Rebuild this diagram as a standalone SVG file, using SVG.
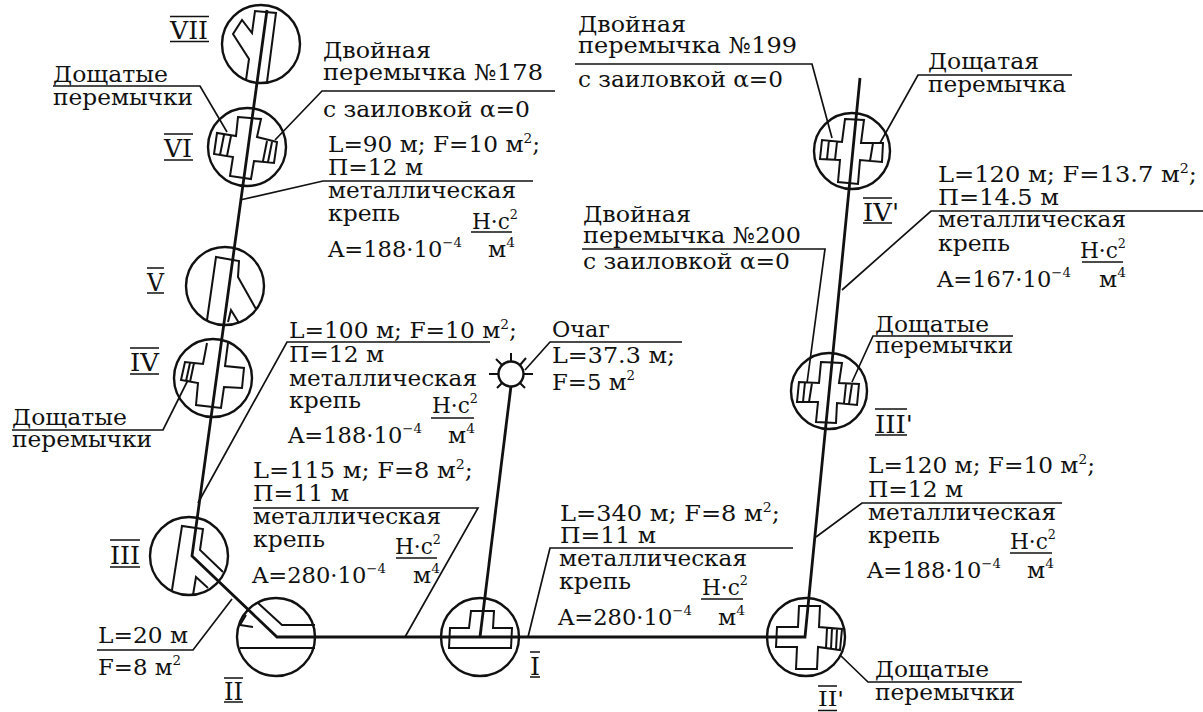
<svg xmlns="http://www.w3.org/2000/svg" width="1203" height="712" viewBox="0 0 1203 712">
<style>
text{font-family:"DejaVu Serif","Liberation Serif",serif;font-size:22px;fill:#111}
.sup{font-size:13px}
.rom{font-size:24px}
.rom2{font-size:21px}
.c{fill:none;stroke:#111;stroke-width:2.4}
.s{fill:none;stroke:#111;stroke-width:2}
.m{fill:none;stroke:#111;stroke-width:2.8}
.t{fill:none;stroke:#111;stroke-width:1.7}
</style>
<rect width="1203" height="712" fill="#fff"/>
<g id="connectors">
<path class="m" d="M267 10L192 556L277 637H805L860 78"/>
<path class="m" d="M480 637L511 386"/>
<path class="t" d="M53 86H200L227 132"/>
<path class="t" d="M12 430H163L188 380"/>
<path class="t" d="M555 91H322L275 140"/>
<path class="t" d="M533 181H323L240 200"/>
<path class="t" d="M490 342H287L198 503"/>
<path class="t" d="M253 508H478L405 637"/>
<path class="t" d="M97 650H193L232 599"/>
<path class="t" d="M793 548H550L528 637"/>
<path class="t" d="M682 342H550L525 370"/>
<path class="t" d="M575 64H812L832 138"/>
<path class="t" d="M582 249H825L807 383"/>
<path class="t" d="M1072 75H918L880 143"/>
<path class="t" d="M1203 211H931L842 290"/>
<path class="t" d="M1013 336H873L852 382"/>
<path class="t" d="M1062 503H862L816 537"/>
<path class="t" d="M1022 682H868L840 655"/>
</g>
<g id="node-VII"><circle class="c" cx="261" cy="44" r="39"/><path class="s" d="M246 80L249 59L233 34L242 20L252 33L255 11L276 13L267 82"/></g>
<g id="node-VI"><circle class="c" cx="247" cy="147" r="39"/><path class="s" d="M238 117L261 119L257 137L277 142L274 163L254 161L251 179L230 176L233 157L214 154L217 133L236 136ZM224 135L220 155M231 136L227 156M272 142L268 162M267 141L263 161"/></g>
<g id="node-V"><circle class="c" cx="225" cy="286" r="39"/><path class="s" d="M207 320L216 257L239 261L238 277L256 309M228 322L231 310L239 323"/></g>
<g id="node-IV"><circle class="c" cx="213" cy="378" r="39"/><path class="s" d="M207 343L203 364L185 362L181 380L198 383L196 405L221 408L224 387L242 388L244 368L225 366L228 343M190 363L186 381M194 363L190 382"/></g>
<g id="node-III"><circle class="c" cx="189" cy="556" r="39"/><path class="s" d="M172 590L182 526L203 529L200 550L223 572M193 595L196 577L208 588"/></g>
<g id="node-II"><circle class="c" cx="276" cy="637" r="39"/><path class="s" d="M258 603L282 625H315M246 615L240 625L253 627M240 648H315"/></g>
<g id="node-I"><circle class="c" cx="480" cy="637" r="39"/><path class="s" d="M450 628H469L471 611H494L493 628H512L511 648H449Z"/></g>
<g id="node-IIp"><circle class="c" cx="806" cy="637" r="39"/><path class="s" d="M799 606H820L819 627L842 629L840 650L818 647L817 669H796L797 647H776L777 627H798ZM827 628L826 648M832 628L831 649M837 629L836 650"/></g>
<g id="node-IVp"><circle class="c" cx="852" cy="151" r="38"/><path class="s" d="M845 119L864 120L861 143H883L882 162L860 160L858 184L838 182L840 160L820 159L822 140L842 142ZM829 140L827 159M837 142L835 160M873 143L870 161"/></g>
<g id="node-IIIp"><circle class="c" cx="829" cy="391" r="38"/><path class="s" d="M821 362L842 363L839 383L859 384L857 405L837 403L836 423L816 422L818 402L797 402L799 382L819 383ZM805 382L803 402M812 383L809 402M852 384L849 404M846 384L844 403"/></g>
<g id="node-focus"><circle class="c" cx="511" cy="374" r="12.5"/><path class="s" d="M511 361V353M524 374H533M520 365L526 358M502 365L496 359M498 374H489M502 383L497 388M520 383L525 388"/></g>
<g id="label-VII"><text class="rom" x="170" y="39" textLength="38" lengthAdjust="spacingAndGlyphs">VII</text><path class="t" d="M170 16.5H209M170 41.5H209"/></g>
<g id="label-VI"><text class="rom" x="164" y="157" textLength="28" lengthAdjust="spacingAndGlyphs">VI</text><path class="t" d="M164 134H193M164 160H193"/></g>
<g id="label-V"><text class="rom" x="147" y="291" textLength="17" lengthAdjust="spacingAndGlyphs">V</text><path class="t" d="M147 268H164M147 293H164"/></g>
<g id="label-IV"><text class="rom" x="130" y="371" textLength="29" lengthAdjust="spacingAndGlyphs">IV</text><path class="t" d="M130 348H159M130 374H159"/></g>
<g id="label-III"><text class="rom" x="110" y="564" textLength="30" lengthAdjust="spacingAndGlyphs">III</text><path class="t" d="M110 540H140M110 567H140"/></g>
<g id="label-II"><text class="rom" x="224" y="700" textLength="19" lengthAdjust="spacingAndGlyphs">II</text><path class="t" d="M224 678H243M224 702H243"/></g>
<g id="label-I"><text class="rom" x="530" y="675" textLength="10" lengthAdjust="spacingAndGlyphs">I</text><path class="t" d="M530 652H540M530 677H540"/></g>
<g id="label-IIp"><text class="rom2" x="818" y="706" textLength="26" lengthAdjust="spacingAndGlyphs">II'</text><path class="t" d="M818 686H837M818 710.5H837"/></g>
<g id="label-IIIp"><text class="rom" x="875" y="433" textLength="38" lengthAdjust="spacingAndGlyphs">III'</text><path class="t" d="M875 409H907M875 435H907"/></g>
<g id="label-IVp"><text class="rom" x="863" y="221" textLength="36" lengthAdjust="spacingAndGlyphs">IV'</text><path class="t" d="M863 198H892M863 223H892"/></g>
<g id="text-vi-left"><text x="53" y="82" textLength="115" lengthAdjust="spacingAndGlyphs">Дощатые</text><text x="53" y="105" textLength="140" lengthAdjust="spacingAndGlyphs">перемычки</text></g>
<g id="text-iv-left"><text x="12" y="425" textLength="115" lengthAdjust="spacingAndGlyphs">Дощатые</text><text x="12" y="447" textLength="140" lengthAdjust="spacingAndGlyphs">перемычки</text></g>
<g id="text-178"><text x="323" y="58" textLength="108" lengthAdjust="spacingAndGlyphs">Двойная</text><text x="323" y="80" textLength="220" lengthAdjust="spacingAndGlyphs">перемычка №178</text><text x="323" y="117" textLength="207" lengthAdjust="spacingAndGlyphs">с заиловкой α=0</text>
<text x="328" y="152" textLength="212" lengthAdjust="spacingAndGlyphs">L=90 м; F=10 м<tspan class="sup" dy="-9">2</tspan><tspan dy="9">;</tspan></text><text x="328" y="175" textLength="95" lengthAdjust="spacingAndGlyphs">П=12 м</text><text x="328" y="198" textLength="188" lengthAdjust="spacingAndGlyphs">металлическая</text><text x="328" y="221" textLength="72" lengthAdjust="spacingAndGlyphs">крепь</text>
<text x="472" y="229" textLength="46" lengthAdjust="spacingAndGlyphs">Н·с<tspan class="sup" dy="-10">2</tspan></text><path class="t" d="M471 232H512"/><text x="488" y="257" textLength="27" lengthAdjust="spacingAndGlyphs">м<tspan class="sup" dy="-10">4</tspan></text><text x="328" y="257" textLength="134" lengthAdjust="spacingAndGlyphs">A=188·10<tspan class="sup" dy="-10">−4</tspan></text></g>
<g id="text-100"><text x="289" y="338" textLength="228" lengthAdjust="spacingAndGlyphs">L=100 м; F=10 м<tspan class="sup" dy="-9">2</tspan><tspan dy="9">;</tspan></text><text x="289" y="362" textLength="95" lengthAdjust="spacingAndGlyphs">П=12 м</text><text x="289" y="386" textLength="188" lengthAdjust="spacingAndGlyphs">металлическая</text><text x="289" y="408" textLength="72" lengthAdjust="spacingAndGlyphs">крепь</text>
<text x="432" y="413" textLength="46" lengthAdjust="spacingAndGlyphs">Н·с<tspan class="sup" dy="-10">2</tspan></text><path class="t" d="M431 418H474"/><text x="448" y="443" textLength="27" lengthAdjust="spacingAndGlyphs">м<tspan class="sup" dy="-10">4</tspan></text><text x="288" y="443" textLength="134" lengthAdjust="spacingAndGlyphs">A=188·10<tspan class="sup" dy="-10">−4</tspan></text></g>
<g id="text-115"><text x="253" y="478" textLength="220" lengthAdjust="spacingAndGlyphs">L=115 м; F=8 м<tspan class="sup" dy="-9">2</tspan><tspan dy="9">;</tspan></text><text x="253" y="501" textLength="96" lengthAdjust="spacingAndGlyphs">П=11 м</text><text x="253" y="524" textLength="188" lengthAdjust="spacingAndGlyphs">металлическая</text><text x="253" y="547" textLength="72" lengthAdjust="spacingAndGlyphs">крепь</text>
<text x="395" y="554" textLength="46" lengthAdjust="spacingAndGlyphs">Н·с<tspan class="sup" dy="-10">2</tspan></text><path class="t" d="M396 558H437"/><text x="413" y="583" textLength="27" lengthAdjust="spacingAndGlyphs">м<tspan class="sup" dy="-10">4</tspan></text><text x="252" y="583" textLength="134" lengthAdjust="spacingAndGlyphs">A=280·10<tspan class="sup" dy="-10">−4</tspan></text></g>
<g id="text-focus"><text x="552" y="337" textLength="58" lengthAdjust="spacingAndGlyphs">Очаг</text><text x="552" y="363" textLength="123" lengthAdjust="spacingAndGlyphs">L=37.3 м;</text><text x="552" y="390" textLength="83" lengthAdjust="spacingAndGlyphs">F=5 м<tspan class="sup" dy="-10">2</tspan></text></g>
<g id="text-20"><text x="98" y="643" textLength="90" lengthAdjust="spacingAndGlyphs">L=20 м</text><text x="98" y="675" textLength="83" lengthAdjust="spacingAndGlyphs">F=8 м<tspan class="sup" dy="-10">2</tspan></text></g>
<g id="text-340"><text x="560" y="521" textLength="220" lengthAdjust="spacingAndGlyphs">L=340 м; F=8 м<tspan class="sup" dy="-9">2</tspan><tspan dy="9">;</tspan></text><text x="560" y="543" textLength="96" lengthAdjust="spacingAndGlyphs">П=11 м</text><text x="559" y="566" textLength="188" lengthAdjust="spacingAndGlyphs">металлическая</text><text x="559" y="589" textLength="72" lengthAdjust="spacingAndGlyphs">крепь</text>
<text x="702" y="595" textLength="46" lengthAdjust="spacingAndGlyphs">Н·с<tspan class="sup" dy="-10">2</tspan></text><path class="t" d="M701 599H743"/><text x="718" y="625" textLength="27" lengthAdjust="spacingAndGlyphs">м<tspan class="sup" dy="-10">4</tspan></text><text x="558" y="625" textLength="134" lengthAdjust="spacingAndGlyphs">A=280·10<tspan class="sup" dy="-10">−4</tspan></text></g>
<g id="text-199"><text x="578" y="32" textLength="108" lengthAdjust="spacingAndGlyphs">Двойная</text><text x="578" y="53" textLength="219" lengthAdjust="spacingAndGlyphs">перемычка №199</text><text x="578" y="87" textLength="205" lengthAdjust="spacingAndGlyphs">с заиловкой α=0</text></g>
<g id="text-200"><text x="583" y="222" textLength="108" lengthAdjust="spacingAndGlyphs">Двойная</text><text x="583" y="243" textLength="218" lengthAdjust="spacingAndGlyphs">перемычка №200</text><text x="583" y="269" textLength="207" lengthAdjust="spacingAndGlyphs">с заиловкой α=0</text></g>
<g id="text-iv-right"><text x="928" y="69" textLength="111" lengthAdjust="spacingAndGlyphs">Дощатая</text><text x="928" y="92" textLength="138" lengthAdjust="spacingAndGlyphs">перемычка</text></g>
<g id="text-120a"><text x="938" y="182" textLength="259" lengthAdjust="spacingAndGlyphs">L=120 м; F=13.7  м<tspan class="sup" dy="-9">2</tspan><tspan dy="9">;</tspan></text><text x="938" y="205" textLength="121" lengthAdjust="spacingAndGlyphs">П=14.5 м</text><text x="938" y="227" textLength="188" lengthAdjust="spacingAndGlyphs">металлическая</text><text x="938" y="251" textLength="72" lengthAdjust="spacingAndGlyphs">крепь</text>
<text x="1080" y="258" textLength="46" lengthAdjust="spacingAndGlyphs">Н·с<tspan class="sup" dy="-10">2</tspan></text><path class="t" d="M1082 262H1123"/><text x="1099" y="287" textLength="27" lengthAdjust="spacingAndGlyphs">м<tspan class="sup" dy="-10">4</tspan></text><text x="937" y="287" textLength="134" lengthAdjust="spacingAndGlyphs">A=167·10<tspan class="sup" dy="-10">−4</tspan></text></g>
<g id="text-iii-right"><text x="875" y="332" textLength="114" lengthAdjust="spacingAndGlyphs">Дощатые</text><text x="875" y="353" textLength="138" lengthAdjust="spacingAndGlyphs">перемычки</text></g>
<g id="text-120b"><text x="868" y="473" textLength="227" lengthAdjust="spacingAndGlyphs">L=120 м; F=10 м<tspan class="sup" dy="-9">2</tspan><tspan dy="9">;</tspan></text><text x="868" y="497" textLength="95" lengthAdjust="spacingAndGlyphs">П=12 м</text><text x="868" y="520" textLength="188" lengthAdjust="spacingAndGlyphs">металлическая</text><text x="868" y="543" textLength="72" lengthAdjust="spacingAndGlyphs">крепь</text>
<text x="1010" y="549" textLength="46" lengthAdjust="spacingAndGlyphs">Н·с<tspan class="sup" dy="-10">2</tspan></text><path class="t" d="M1010 553H1052"/><text x="1027" y="578" textLength="27" lengthAdjust="spacingAndGlyphs">м<tspan class="sup" dy="-10">4</tspan></text><text x="867" y="578" textLength="134" lengthAdjust="spacingAndGlyphs">A=188·10<tspan class="sup" dy="-10">−4</tspan></text></g>
<g id="text-ii-right"><text x="875" y="677" textLength="114" lengthAdjust="spacingAndGlyphs">Дощатые</text><text x="875" y="700" textLength="140" lengthAdjust="spacingAndGlyphs">перемычки</text></g>
</svg>
